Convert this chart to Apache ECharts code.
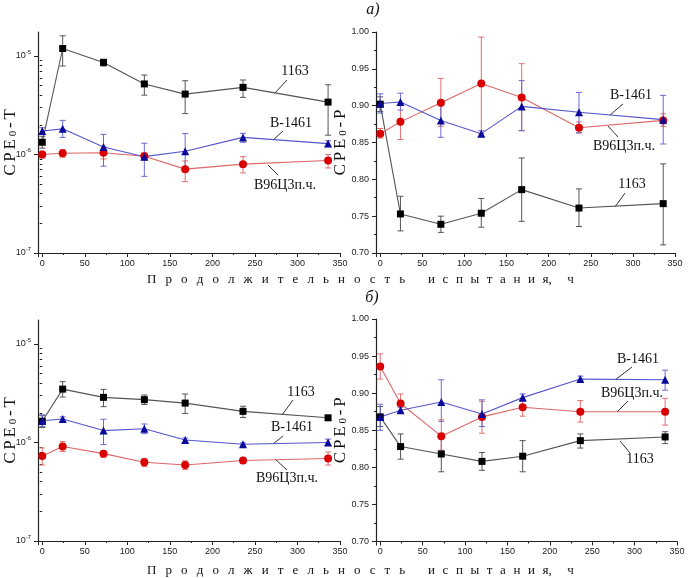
<!DOCTYPE html>
<html>
<head>
<meta charset="utf-8">
<script src="https://cdn.jsdelivr.net/npm/echarts@6/dist/echarts.min.js"></script>
<style>html,body{margin:0;padding:0;background:#fff;}#c{width:689px;height:578px;}</style>
</head>
<body>
<div id="c"></div>
<script>
// ---- data ----
const hours = [0, 24, 72, 120, 168, 236, 336];
const seriesNames = ['1163', 'В-1461', 'В96Ц3п.ч.'];
const xTitleWords = ['Продолжительность', 'испытания,', 'ч'];

// panel а) CPE0-T
const aT_1163    = [1.33e-6, 1.19e-5, 8.6e-6, 5.2e-6, 4.1e-6, 4.8e-6, 3.4e-6];
const aT_1163_lo = [1.16e-6, 7.9e-6, 7.9e-6, 4.0e-6, 2.6e-6, 3.8e-6, 1.57e-6];
const aT_1163_hi = [1.53e-6, 1.6e-5, 9.25e-6, 6.4e-6, 5.6e-6, 5.7e-6, 5.1e-6];
const aT_B       = [1.73e-6, 1.82e-6, 1.19e-6, 9.5e-7, 1.08e-6, 1.49e-6, 1.29e-6];
const aT_B_lo    = [1.6e-6, 1.49e-6, 7.6e-7, 6.0e-7, 6.8e-7, 1.33e-6, 1.2e-6];
const aT_B_hi    = [1.87e-6, 2.22e-6, 1.6e-6, 1.3e-6, 1.63e-6, 1.64e-6, 1.38e-6];
const aT_R       = [1.0e-6, 1.03e-6, 1.04e-6, 9.6e-7, 7.1e-7, 7.98e-7, 8.7e-7];
const aT_R_lo    = [9.2e-7, 9.4e-7, 9.0e-7, 8.8e-7, 5.3e-7, 6.5e-7, 7.3e-7];
const aT_R_hi    = [1.08e-6, 1.12e-6, 1.2e-6, 1.04e-6, 8.6e-7, 9.5e-7, 1.0e-6];

// panel а) CPE0-P
const aP_1163    = [0.902, 0.753, 0.739, 0.754, 0.786, 0.761, 0.767];
const aP_1163_lo = [0.892, 0.730, 0.728, 0.735, 0.743, 0.736, 0.711];
const aP_1163_hi = [0.912, 0.777, 0.750, 0.774, 0.829, 0.787, 0.821];
const aP_B       = [0.903, 0.905, 0.880, 0.862, 0.899, 0.891, 0.881];
const aP_B_lo    = [0.890, 0.894, 0.857, 0.858, 0.866, 0.863, 0.848];
const aP_B_hi    = [0.916, 0.917, 0.900, 0.866, 0.934, 0.918, 0.914];
const aP_R       = [0.862, 0.878, 0.904, 0.930, 0.911, 0.870, 0.880];
const aP_R_lo    = [0.856, 0.854, 0.872, 0.862, 0.866, 0.863, 0.872];
const aP_R_hi    = [0.869, 0.904, 0.937, 0.993, 0.957, 0.878, 0.889];

// panel б) CPE0-T
const bT_1163    = [1.64e-6, 3.48e-6, 2.87e-6, 2.72e-6, 2.51e-6, 2.07e-6, 1.78e-6];
const bT_1163_lo = [1.42e-6, 2.89e-6, 2.31e-6, 2.43e-6, 1.97e-6, 1.79e-6, 1.72e-6];
const bT_1163_hi = [1.87e-6, 4.14e-6, 3.46e-6, 3.03e-6, 3.1e-6, 2.33e-6, 1.84e-6];
const bT_B       = [1.66e-6, 1.73e-6, 1.32e-6, 1.38e-6, 1.06e-6, 9.6e-7, 1.0e-6];
const bT_B_lo    = [1.45e-6, 1.64e-6, 9.5e-7, 1.23e-6, 1.01e-6, 9.3e-7, 9.3e-7];
const bT_B_hi    = [1.91e-6, 1.82e-6, 1.72e-6, 1.54e-6, 1.11e-6, 9.9e-7, 1.08e-6];
const bT_R       = [7.3e-7, 9.1e-7, 7.7e-7, 6.3e-7, 5.9e-7, 6.56e-7, 6.87e-7];
const bT_R_lo    = [5.9e-7, 8.1e-7, 7.1e-7, 5.7e-7, 5.3e-7, 6.1e-7, 5.9e-7];
const bT_R_hi    = [8.8e-7, 1.02e-6, 8.2e-7, 6.9e-7, 6.5e-7, 7.0e-7, 8.0e-7];

// panel б) CPE0-P
const bP_1163    = [0.868, 0.828, 0.818, 0.808, 0.815, 0.836, 0.841];
const bP_1163_lo = [0.855, 0.811, 0.794, 0.796, 0.794, 0.826, 0.832];
const bP_1163_hi = [0.882, 0.845, 0.842, 0.820, 0.836, 0.845, 0.848];
const bP_B       = [0.868, 0.877, 0.888, 0.872, 0.894, 0.919, 0.918];
const bP_B_lo    = [0.850, 0.873, 0.862, 0.855, 0.889, 0.915, 0.904];
const bP_B_hi    = [0.885, 0.881, 0.918, 0.891, 0.899, 0.923, 0.931];
const bP_R       = [0.936, 0.886, 0.842, 0.868, 0.881, 0.875, 0.875];
const bP_R_lo    = [0.919, 0.874, 0.823, 0.846, 0.869, 0.861, 0.857];
const bP_R_hi    = [0.953, 0.899, 0.864, 0.889, 0.889, 0.890, 0.893];

const logMajorTicks = [1e-7, 1e-6, 1e-5];
const logMinorTicks = [2e-7,3e-7,4e-7,5e-7,6e-7,7e-7,8e-7,9e-7,2e-6,3e-6,4e-6,5e-6,6e-6,7e-6,8e-6,9e-6];

// ---- chart ----
const styles = [
  {symbol: 'rect', size: 7, mark: '#000000', line: '#555555', err: '#555555'},
  {symbol: 'triangle', size: 8, mark: '#0a0a9a', line: '#5555cc', err: '#6a6ad0'},
  {symbol: 'circle', size: 8, mark: '#d80000', line: '#dd6666', err: '#e07070'}
];
const panels = [
  {vals: [aT_1163, aT_B, aT_R], lo: [aT_1163_lo, aT_B_lo, aT_R_lo], hi: [aT_1163_hi, aT_B_hi, aT_R_hi], log: true},
  {vals: [aP_1163, aP_B, aP_R], lo: [aP_1163_lo, aP_B_lo, aP_R_lo], hi: [aP_1163_hi, aP_B_hi, aP_R_hi], log: false},
  {vals: [bT_1163, bT_B, bT_R], lo: [bT_1163_lo, bT_B_lo, bT_R_lo], hi: [bT_1163_hi, bT_B_hi, bT_R_hi], log: true},
  {vals: [bP_1163, bP_B, bP_R], lo: [bP_1163_lo, bP_B_lo, bP_R_lo], hi: [bP_1163_hi, bP_B_hi, bP_R_hi], log: false}
];
const grids = [
  {left: 38, top: 32, width: 302, height: 221},
  {left: 376, top: 32, width: 299, height: 221},
  {left: 38, top: 320, width: 302, height: 221},
  {left: 376, top: 319, width: 301, height: 222.5}
];
const labelFont = {fontFamily: 'Liberation Sans', fontSize: 9, color: '#222'};
const axisLine = {show: true, onZero: false, lineStyle: {color: '#222', width: 1.2}};

const nameRich = {
  c: {fontFamily: 'Liberation Serif', fontSize: 17, color: '#111', padding: [0, 1.4, 0, 1.4]},
  s: {fontFamily: 'Liberation Serif', fontSize: 11, color: '#111', verticalAlign: 'bottom', lineHeight: 11, padding: [0, 1.4, 0, 1.4]}
};
function axisName(main, sub, tail) {
  return main.split('').map(ch => '{c|' + ch + '}').join('') + '{s|' + sub + '}' +
         tail.split('').map(ch => '{c|' + ch + '}').join('');
}

const xAxes = grids.map((g, i) => ({
  type: 'value', gridIndex: i, min: -5, max: 350, splitNumber: 7,
  axisLine: axisLine, splitLine: {show: false},
  axisTick: {show: true, length: 4, lineStyle: {color: '#222'}},
  minorTick: {show: true, splitNumber: 2, length: 2, lineStyle: {color: '#222'}},
  axisLabel: Object.assign({margin: 6, showMinLabel: false}, labelFont)
}));

const yAxes = [];
const yIndexOfPanel = [];
panels.forEach((p, i) => {
  yIndexOfPanel.push(yAxes.length);
  if (p.log) {
    yAxes.push({
      type: 'log', logBase: 10, gridIndex: i, min: 1e-7, max: 1.75e-5,
      axisLine: axisLine, splitLine: {show: false},
      axisTick: {show: true, length: 4, lineStyle: {color: '#222'}, customValues: logMajorTicks},
      axisLabel: Object.assign({
        margin: 7, customValues: logMajorTicks,
        formatter: v => '{b|10}{s|' + Math.round(Math.log10(v)) + '}',
        rich: {b: {fontFamily: 'Liberation Sans', fontSize: 9, lineHeight: 14, color: '#222'},
               s: {fontFamily: 'Liberation Sans', fontSize: 6, lineHeight: 6, verticalAlign: 'top', color: '#222'}}
      }, labelFont),
      name: axisName('CPE', '0', '-T'), nameLocation: 'middle', nameGap: 19, nameMoveOverlap: false,
      nameTextStyle: {rich: nameRich}
    });
    yAxes.push({
      type: 'log', logBase: 10, gridIndex: i, min: 1e-7, max: 1.75e-5, position: 'left',
      axisLine: {show: false}, splitLine: {show: false}, axisLabel: {show: false},
      axisTick: {show: true, length: 2.5, lineStyle: {color: '#222'}, customValues: logMinorTicks}
    });
  } else {
    yAxes.push({
      type: 'value', gridIndex: i, min: 0.7, max: 1.0, splitNumber: 6,
      axisLine: axisLine, splitLine: {show: false},
      axisTick: {show: true, length: 4, lineStyle: {color: '#222'}},
      minorTick: {show: true, splitNumber: 2, length: 2, lineStyle: {color: '#222'}},
      axisLabel: Object.assign({margin: 7, formatter: v => v.toFixed(2)}, labelFont),
      name: axisName('CPE', '0', '-P'), nameLocation: 'middle', nameGap: 27, nameMoveOverlap: false,
      nameTextStyle: {rich: nameRich}
    });
  }
});

function errRender(color) {
  return function (params, api) {
    const x = api.value(0);
    const p1 = api.coord([x, api.value(1)]);
    const p2 = api.coord([x, api.value(2)]);
    const w = 3;
    const st = {stroke: color, lineWidth: 1};
    return {type: 'group', children: [
      {type: 'line', shape: {x1: p1[0], y1: p1[1], x2: p2[0], y2: p2[1]}, style: st},
      {type: 'line', shape: {x1: p1[0] - w, y1: p1[1], x2: p1[0] + w, y2: p1[1]}, style: st},
      {type: 'line', shape: {x1: p2[0] - w, y1: p2[1], x2: p2[0] + w, y2: p2[1]}, style: st}
    ]};
  };
}

const series = [];
panels.forEach((p, pi) => {
  [0, 2, 1].forEach(si => {
    const s = styles[si];
    series.push({
      type: 'custom', name: seriesNames[si] + ' err', xAxisIndex: pi, yAxisIndex: yIndexOfPanel[pi],
      renderItem: errRender(s.err), encode: {x: 0, y: [1, 2]}, z: 2, silent: true,
      data: hours.map((h, k) => [h, p.lo[si][k], p.hi[si][k]])
    });
  });
  [0, 2, 1].forEach(si => {
    const s = styles[si];
    series.push({
      type: 'line', name: seriesNames[si], xAxisIndex: pi, yAxisIndex: yIndexOfPanel[pi],
      data: hours.map((h, k) => [h, p.vals[si][k]]),
      symbol: s.symbol, symbolSize: s.size, showAllSymbol: true, z: 3,
      lineStyle: {color: s.line, width: 1.1},
      itemStyle: {color: s.mark, borderColor: s.mark, borderWidth: 0}
    });
  });
});

// annotations
const serif = 'Liberation Serif';
function label(text, x, y) {
  return {type: 'text', x: x, y: y, style: {text: text, font: '14px "' + serif + '"', fill: '#111', align: 'center', verticalAlign: 'middle'}};
}
function leader(x1, y1, x2, y2) {
  return {type: 'line', shape: {x1: x1, y1: y1, x2: x2, y2: y2}, style: {stroke: '#333', lineWidth: 1}};
}
// letter-spaced axis title pieces
function spacedWord(w, sp) {
  let out = '';
  for (let k = 0; k < w.length; k++) {
    const ch = w[k];
    if (k > 0 && ch !== ',') out += sp;
    out += ch;
  }
  return out;
}
const titleA = spacedWord(xTitleWords[0], '\u2002\u2009');
const titleB = spacedWord(xTitleWords[1], '\u2002\u200A') + '\u2002\u2002\u2009' + xTitleWords[2];
function titleTexts(y) {
  return [
    {type: 'text', x: 147, y: y, style: {text: titleA, font: '13px "' + serif + '"', fill: '#111', align: 'left', verticalAlign: 'middle'}},
    {type: 'text', x: 428, y: y, style: {text: titleB, font: '13px "' + serif + '"', fill: '#111', align: 'left', verticalAlign: 'middle'}}
  ];
}
const graphic = [
  // panel а) left
  label(seriesNames[0], 295, 71), leader(287, 80, 275, 93),
  label(seriesNames[1], 291, 123), leader(283, 131, 273, 140),
  label(seriesNames[2], 285, 185), leader(278, 175, 268, 165),
  // panel а) right
  label(seriesNames[1], 631, 95), leader(623, 104, 610, 115),
  label(seriesNames[2], 624, 146), leader(618, 137, 608, 126),
  label(seriesNames[0], 632, 184), leader(625, 193, 615, 207),
  // panel б) left
  label(seriesNames[0], 301, 392), leader(293, 400, 282, 415),
  label(seriesNames[1], 292, 427), leader(283, 436, 273, 444),
  label(seriesNames[2], 287, 478), leader(287, 470, 275, 459),
  // panel б) right
  label(seriesNames[1], 638, 359), leader(632, 367, 615, 380),
  label(seriesNames[2], 632, 393), leader(628, 401, 617, 412),
  label(seriesNames[0], 640, 459), leader(630, 453, 620, 441),
  // panel letters
  {type: 'text', x: 373, y: 10, style: {text: 'а)', font: 'italic 16px "' + serif + '"', fill: '#111', align: 'center', verticalAlign: 'middle'}},
  {type: 'text', x: 372, y: 298, style: {text: 'б)', font: 'italic 16px "' + serif + '"', fill: '#111', align: 'center', verticalAlign: 'middle'}}
].concat(titleTexts(280), titleTexts(571));

const chart = echarts.init(document.getElementById('c'), null, {renderer: 'canvas'});
chart.setOption({
  animation: false,
  backgroundColor: '#fff',
  grid: grids.map(g => Object.assign({containLabel: false}, g)),
  xAxis: xAxes,
  yAxis: yAxes,
  series: series,
  graphic: graphic
});
</script>
</body>
</html>
